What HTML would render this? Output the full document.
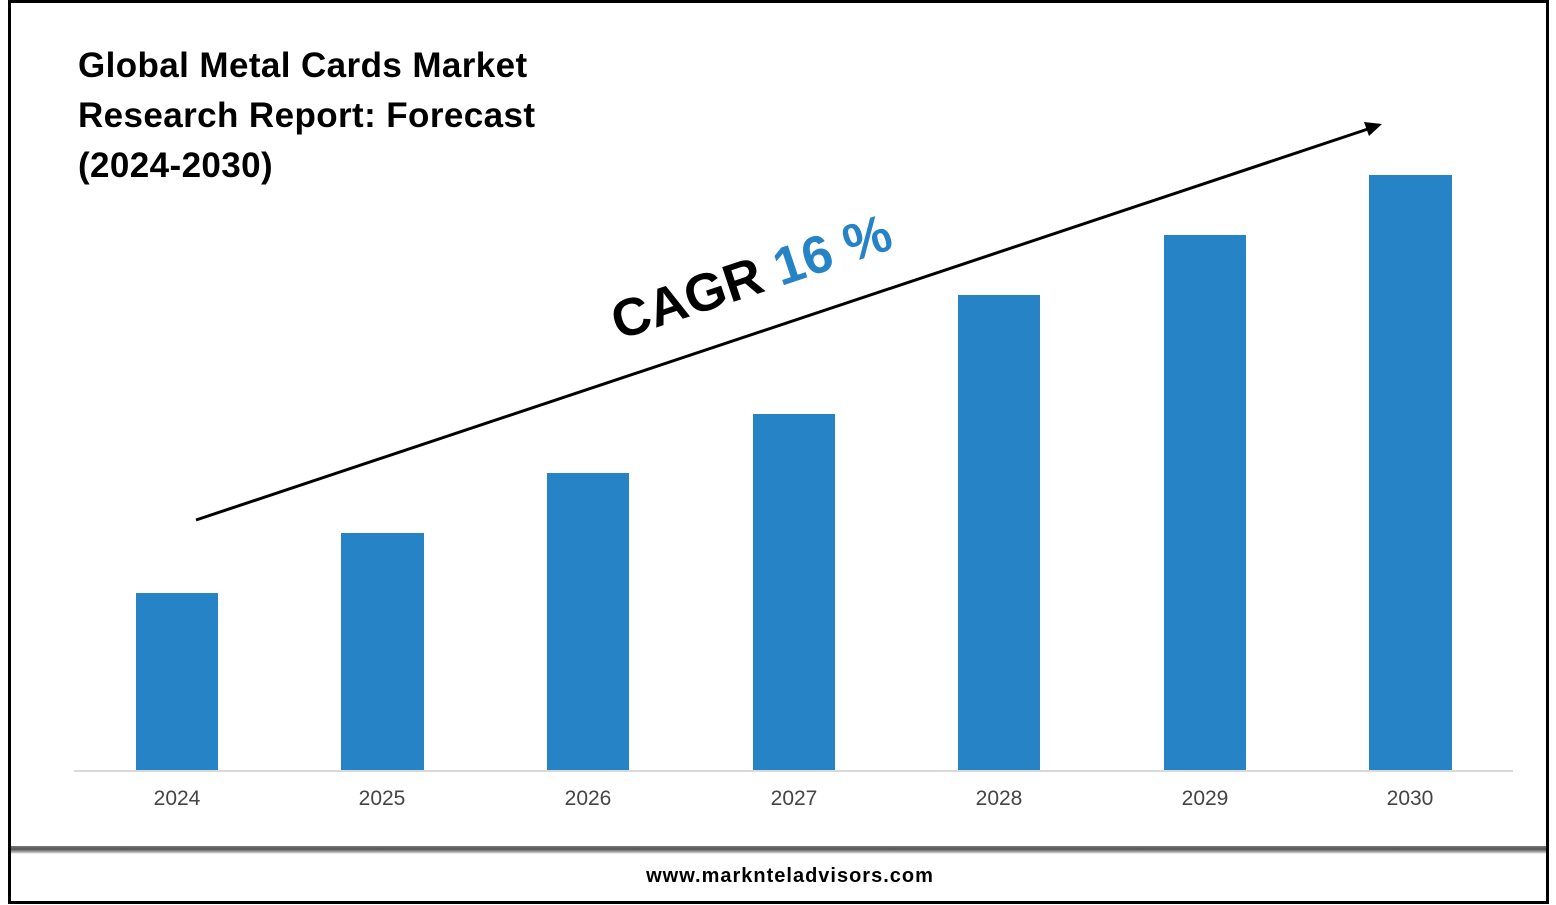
<!DOCTYPE html>
<html><head><style>
body{margin:0;width:1556px;height:905px;background:#fff;position:relative;overflow:hidden;font-family:"Liberation Sans",sans-serif}
.frame{position:absolute;left:8px;top:0;width:1535px;height:898px;border:3px solid #000;border-top-width:3px}
.sep{position:absolute;left:11px;top:846px;width:1535px;height:8px;background:linear-gradient(#777,#555 40%,#bbb 80%,#fff)}
.title{position:absolute;left:78px;top:41px;font-weight:bold;font-size:35px;line-height:50px;color:#000;letter-spacing:0.4px}
.bar{position:absolute;background:#2683C6;width:82px;bottom:135px}
.lbl{position:absolute;top:787px;width:100px;text-align:center;font-size:21px;color:#444}
.url{position:absolute;top:865px;left:0;width:1580px;text-align:center;font-weight:bold;font-size:20px;letter-spacing:1px}
</style></head><body>
<div class="frame"></div>
<div class="sep"></div>
<div class="title">Global Metal Cards Market<br>Research Report: Forecast<br>(2024-2030)</div>
<div style="position:absolute;left:74px;top:770px;width:1439px;height:2px;background:#d9d9d9"></div>
<div class="bar" style="left:136px;top:593px"></div>
<div class="bar" style="left:341px;top:533px;width:83px"></div>
<div class="bar" style="left:547px;top:473px"></div>
<div class="bar" style="left:753px;top:414px"></div>
<div class="bar" style="left:958px;top:295px"></div>
<div class="bar" style="left:1164px;top:235px"></div>
<div class="bar" style="left:1369px;top:175px;width:83px"></div>
<div class="lbl" style="left:127px">2024</div>
<div class="lbl" style="left:332px">2025</div>
<div class="lbl" style="left:538px">2026</div>
<div class="lbl" style="left:744px">2027</div>
<div class="lbl" style="left:949px">2028</div>
<div class="lbl" style="left:1155px">2029</div>
<div class="lbl" style="left:1360px">2030</div>
<svg style="position:absolute;left:0;top:0" width="1556" height="905">
<line x1="196" y1="520" x2="1368" y2="129" stroke="#000" stroke-width="3"/>
<polygon points="1382,124 1364,122 1369,136" fill="#000"/>
<text x="757" y="294" transform="rotate(-18.45 757 294)" text-anchor="middle" font-family="Liberation Sans, sans-serif" font-weight="bold" font-size="53"><tspan fill="#000">CAGR </tspan><tspan fill="#2683C6">16 %</tspan></text>
</svg>
<div class="url">www.marknteladvisors.com</div>
</body></html>
